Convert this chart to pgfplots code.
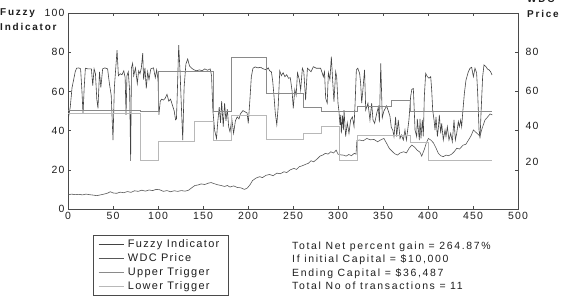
\documentclass[border=0pt]{standalone}
\usepackage{pgfplots}
\pgfplotsset{compat=1.18}
\usepackage{fontspec}
\setmainfont{Liberation Sans}[LetterSpace=12]

\definecolor{axisc}{HTML}{4A4A4A}
\definecolor{textc}{HTML}{1E1E1E}
\definecolor{fuzzyc}{HTML}{434343}
\definecolor{pricec}{HTML}{585858}
\definecolor{upperc}{HTML}{8A8A8A}
\definecolor{lowerc}{HTML}{B8B8B8}

\begin{document}
\begin{tikzpicture}[x=1bp,y=1bp]
\useasboundingbox (0,0) rectangle (566,297);
\begin{axis}[
  at={(68bp,88bp)}, anchor=south west,
  width=450bp, height=196bp, scale only axis,
  xmin=0, xmax=500, ymin=0, ymax=100,
  xtick={0,50,...,500}, ytick={0,20,...,100},
  tick align=inside, xtick pos=both, ytick pos=both,
  major tick length=3bp,
  axis line style={color=axisc, line width=0.7pt},
  tick style={color=axisc, line width=0.6pt},
  ticklabel style={font=\fontsize{10.5}{12}\selectfont, text=textc},
  /pgf/number format/assume math mode=true,
  legend cell align=left,
  legend style={at={(axis description cs:0.0556,-0.1327)}, anchor=north west,
    draw=axisc, line width=0.6pt, font=\fontsize{11}{12}\selectfont,
    text=textc, row sep=0.6bp, inner xsep=5bp, inner ysep=2.5bp,
    nodes={inner xsep=4bp}},
  legend image code/.code={\draw[#1] (0bp,0bp) -- (25bp,0bp);},
]
% fuzzy buy/sell indicator
\addplot[color=fuzzyc, line width=0.6pt] coordinates {
(0.7,47) (2.5,52) (4.5,62) (6.3,66) (8,70) (9.5,71.8) (12,72) (14,71.5) (15.5,60) (16.7,48.5)
(18,62) (19.3,71.8) (22,71.5) (26,71.5) (27.5,63) (29,71.5) (30.5,69) (32,56) (33.3,51.4) (35,70)
(36.5,62) (38.5,71.5) (41,72) (44,71.5) (46,64) (48,58) (50,35.2) (51.5,62) (54.5,81) (56,68)
(58,69) (60,68.5) (62,70.5) (63.5,67) (64.5,48) (65.5,68) (67,70) (68.5,60) (69.6,24.5) (70.5,72)
(71.8,74.3) (73,68) (75,72) (77,64) (78.5,70.5) (80,69) (81.5,72) (83,79.5) (84,66) (85.5,72)
(87,61.5) (88.5,70) (90,66) (92,71.5) (95,72) (97,67) (98.5,71) (100,66) (101,48) (102.5,55)
(104,56) (106,55.6) (108,56.5) (110,58.5) (112,55) (114,56) (116,53) (118,50) (119.5,45.5) (120.5,46)
(121.5,60) (123,83.6) (124.5,70) (126,52) (127.5,35.2) (129,62) (131,74) (133,76.5) (135,73) (137.5,71.8)
(140,71) (143,70.5) (146,71) (149,70.5) (152,71.5) (155,70.8) (158,71.5) (159.5,68) (161,50) (163,40)
(165,36) (166.5,45) (168,52) (169.5,44) (170.7,55) (172.5,42) (174,54) (175.5,45) (177,51) (178.5,42)
(180,39.4) (182,46) (184,38.6) (186,45) (188,47) (190,46) (191.5,48.5) (194.4,50.2) (197,49.5) (199,49)
(200.3,43.7) (202,55) (203.7,67.5) (205.5,71.8) (208,72.5) (211,72) (214,72.3) (217,71.5) (220.4,71) (222.5,72)
(224,70.5) (226,70) (227.5,65) (229,57) (230.3,49) (232,43) (233.5,52) (235.3,70.5) (237,68) (239,69.5)
(241,67.5) (243,68.5) (245,66.7) (247,67) (249,60) (250.3,51.4) (252,61) (253.5,58) (255,69.5) (257,66)
(258.5,60.7) (260.4,71.8) (262,70) (264,55.6) (266,71.8) (268,71) (270,70) (272.6,72.6) (276,71.8) (280.7,71.8)
(282.6,69.2) (283.7,67.5) (285,70) (286.3,56.5) (288,54) (289.3,69.5) (291,66) (292.6,77.7) (294,66) (295.5,54.8)
(297.4,70) (298.5,67.5) (300,54) (301.1,49.7) (302.2,42.9) (303,48) (303.7,38.6) (305,47.6) (306,40.3) (306.7,50.5)
(308.5,37) (310.3,44) (312.2,38.6) (314,45.4) (316,47) (317.8,42.1) (319,54) (320.4,71) (322,71.8) (324,69.2)
(325.2,64) (326.3,54) (327.8,61.6) (329.5,71) (330.8,50.5) (333.3,54) (335.5,45.4) (337.4,54) (338.9,45.4) (340.7,43.7)
(343,48.8) (344.8,52) (346,44.2) (347.5,74.3) (349.2,46.6) (351,50) (354,52.6) (355.9,50) (357.7,47.4) (359.2,41.7)
(361,40) (362.2,36.9) (364,47) (365.2,36.9) (367,45.4) (368.9,36) (370.4,37.8) (372.6,35.2) (374.4,40.3) (376,35.2)
(378.8,45.4) (380.7,57.3) (382,61) (383.7,61.5) (384.4,53.9) (385.6,40.3) (387.4,37) (388.1,46) (389.3,40.3) (390.4,35.2)
(391.1,46) (392.2,36) (393.7,45.4) (394.8,37) (395.9,57.3) (397.4,69.2) (399.3,67.5) (401.1,66.7) (403,67.5) (404.1,60.7)
(405.2,50.5) (406.7,45.4) (407.8,40.3) (408.9,47) (410.4,37) (411.5,41.3) (412.6,48) (414.1,38.6) (415.2,43.7) (417,35.2)
(418.9,40.3) (420,37) (421.5,42) (423.3,35.2) (425.2,38.6) (427,34.3) (428.9,45.4) (430.4,35.2) (431.9,38.6) (433.7,44.6)
(434.8,42) (436.3,45.4) (437.4,42) (438.5,48.8) (440.4,59) (442.2,65.8) (444.8,70) (446.7,71.8) (448.5,72.3) (450.4,67.5)
(452.2,71.8) (454,69.5) (455.2,59) (456.7,40.3) (457.8,36) (458.9,48.8) (460.7,67.5) (462.2,73.5) (464.4,72.6) (466.3,71.3)
(467.8,71) (469.6,70) (471.1,68.4)
};
\addlegendentry{Fuzzy Indicator}
% share price
\addplot[color=pricec, line width=0.6pt] coordinates {
(0,7.2) (4,7.6) (8,7.3) (12,7.5) (16,7.2) (20,7.6) (24,7.3) (28,7.1) (32,6.8) (36,7.2)
(40,7.6) (44,8.1) (47,8.8) (50,8.2) (54,8.0) (58,8.6) (62,8.3) (66,8.9) (70,8.5) (74,9.3)
(78,9.0) (82,9.6) (86,9.1) (90,9.7) (94,9.4) (98,10.0) (102,9.8) (106,9.0) (110,9.4) (114,8.8)
(118,9.3) (122,9.0) (126,9.4) (130,9.1) (134,9.6) (138,11.0) (141,12.0) (144,12.2) (148,12.8) (152,12.5)
(156,13.2) (159,13.5) (162,13.0) (166,12.4) (170,12.0) (174,11.5) (177,12.0) (180,11.2) (184,11.8) (188,11.0)
(192,10.8) (196,10.0) (199,10.6) (202,12.2) (205,14.5) (209,15.8) (213,16.5) (216,16.0) (220,17.2) (224,17.6)
(228,17.0) (232,18.3) (236,18.0) (240,19.0) (243,18.6) (247,20.0) (251,20.7) (254,20.2) (257,21.6) (260,22.0)
(264,22.8) (267,23.3) (270,24.6) (273,24.1) (277,25.6) (280,27.0) (283,27.5) (286,28.4) (289,28.0) (292,29.2)
(295,28.6) (298,30.0) (300,28.0) (303,27.6) (306,27.5) (309,27.0) (312,27.8) (315,27.2) (318,28.4) (320,28.0)
(321,35.0) (324,35.2) (328,34.8) (332,36.0) (336,35.3) (340,35.5) (344,34.3) (348,35.4) (351,36.0) (354,33.5)
(357,30.9) (360,29.5) (363,28.2) (366,27.5) (369,28.6) (373,29.2) (376,28.6) (379,31.0) (382,32.6) (385,31.6)
(388,30.0) (391,29.0) (393,27.0) (396,30.5) (398,33.5) (400.4,36.0) (403,35.2) (406,33.8) (409,31.0) (411.5,28.4)
(414,27.2) (417,26.7) (420,27.5) (423,27.2) (426.3,28.0) (429,29.2) (432,31.0) (435,30.6) (439,32.6) (442,33.0)
(445,35.2) (448,37.5) (450.4,40.3) (453,39.2) (455,38.4) (457.8,37.2) (460,41.0) (463.3,45.4) (466,46.8) (469,48.5)
(471.5,48.0)
};
\addlegendentry{WDC Price}
% upper trigger level
\addplot[color=upperc, line width=0.6pt, const plot] coordinates {
(0,50.5) (80,49.6) (100.7,70.2) (161,49.6) (181.5,77.2) (220.5,59) (261.5,52) (281,49.6)
(321,52.5) (359,55.6) (380.5,49.6) (471,49.6)
};
\addlegendentry{Upper Trigger}
% lower trigger level
\addplot[color=lowerc, line width=0.6pt, const plot] coordinates {
(0,48.8) (80,24.6) (100.7,34.7) (140,44.6) (161,35) (181.5,48) (220.5,35.5) (261.5,38.6)
(281,42) (301,24.6) (321,37.8) (380.5,33.8) (400.4,24.6) (471,24.6)
};
\addlegendentry{Lower Trigger}
\end{axis}
% right-hand price scale
\begin{axis}[
  at={(68bp,88bp)}, anchor=south west,
  width=450bp, height=196bp, scale only axis,
  xmin=0, xmax=500, ymin=0, ymax=100,
  axis x line=none, axis y line*=right,
  ytick={80.1,60.2,42.3,24.0}, yticklabels={80,60,40,20},
  major tick length=0pt,
  axis line style={color=axisc, line width=0.7pt},
  ticklabel style={font=\fontsize{10.5}{12}\selectfont, text=textc},
  yticklabel style={xshift=4bp},
]
\end{axis}
\node[anchor=west, inner sep=0, font=\bfseries\fontsize{10}{12}\selectfont\addfontfeature{LetterSpace=18}, text=textc] at (0,284.3) {Fuzzy};
\node[anchor=west, inner sep=0, font=\bfseries\fontsize{10}{12}\selectfont\addfontfeature{LetterSpace=18}, text=textc] at (0,269.7) {Indicator};
\node[anchor=west, inner sep=0, font=\bfseries\fontsize{10}{12}\selectfont\addfontfeature{LetterSpace=18}, text=textc] at (527,297.5) {WDC};
\node[anchor=west, inner sep=0, font=\bfseries\fontsize{10}{12}\selectfont\addfontfeature{LetterSpace=18}, text=textc] at (527,283) {Price};
\node[anchor=north west, inner sep=0, align=left, text=textc,
  font=\fontsize{10.5}{13.5}\selectfont\addfontfeature{LetterSpace=16}] at (292,55.5)
  {Total Net percent gain = 264.87\%\\
   If initial Capital = \$10,000\\
   Ending Capital = \$36,487\\
   Total No of transactions = 11};
\end{tikzpicture}
\end{document}
